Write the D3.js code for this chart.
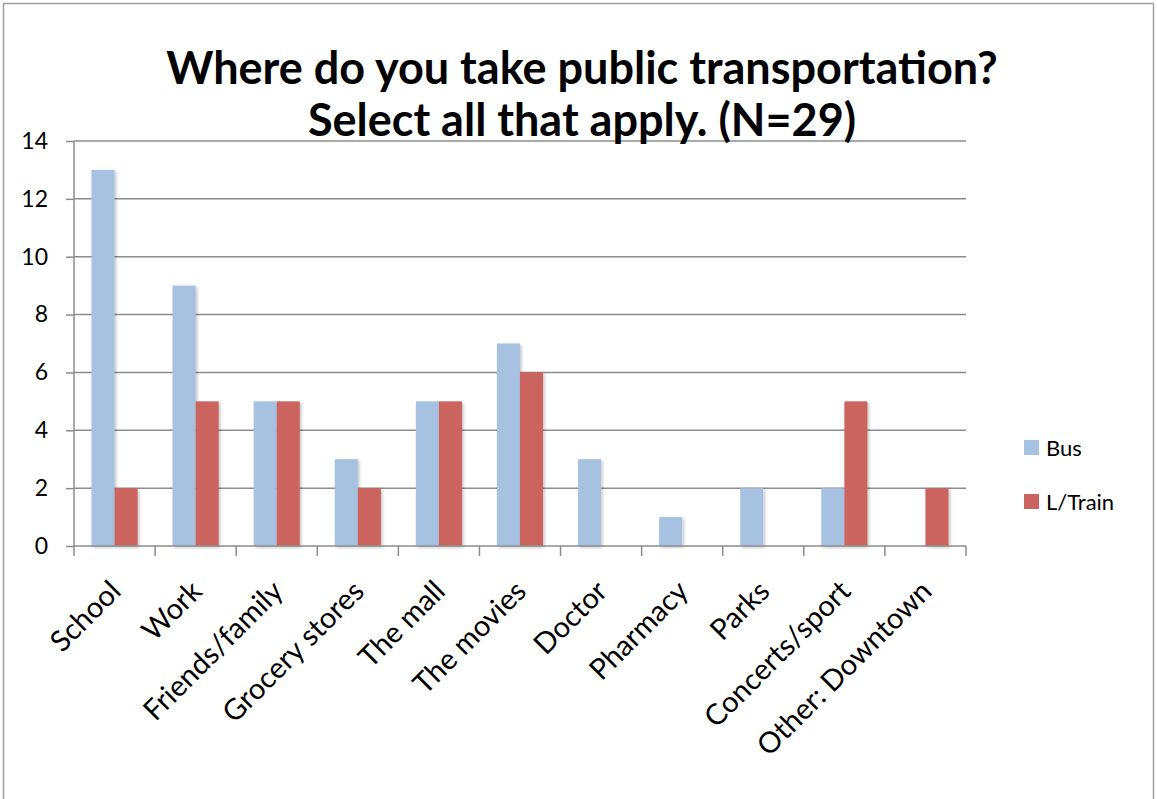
<!DOCTYPE html>
<html lang="en">
<head>
    <meta charset="UTF-8">
    <title>Public transportation</title>
    <script src="https://d3js.org/d3.v7.min.js"></script>
    <style>
        body { margin: 0; background: #fff; }
        text { font-family: Lato, "Open Sans", sans-serif; fill: #000; }
    </style>
</head>
<body>
    <svg id="chart" width="1157" height="799"></svg>
    <script>
        const categories = ["School", "Work", "Friends/family", "Grocery stores", "The mall",
            "The movies", "Doctor", "Pharmacy", "Parks", "Concerts/sport", "Other: Downtown"];
        const seriesNames = ["Bus", "L/Train"];
        const busValues = [13, 9, 5, 3, 5, 7, 3, 1, 2, 2, 0];
        const trainValues = [2, 5, 5, 2, 5, 6, 0, 0, 0, 5, 2];
        const yTicks = [0, 2, 4, 6, 8, 10, 12, 14];
        const colors = ["#a7c1e0", "#cb635e"];

        const rows = categories.map((c, i) => ({category: c, values: [busValues[i], trainValues[i]]}));

        const svg = d3.select("#chart");
        const plotLeft = 74, plotRight = 966, plotTop = 141, plotBottom = 546;

        // outer frame
        svg.append("rect")
            .attr("x", 3.5).attr("y", 3.5)
            .attr("width", 1150).attr("height", 820)
            .attr("fill", "none").attr("stroke", "#a0a0a0").attr("stroke-width", 1.5);

        const x = d3.scaleBand().domain(categories).range([plotLeft, plotRight]);
        const xSub = d3.scaleBand().domain(seriesNames)
            .range([17.5, x.bandwidth() - 17.5]);
        const y = d3.scaleLinear().domain([0, 14]).range([plotBottom, plotTop]);

        // gridlines
        svg.append("g")
            .selectAll("line")
            .data(yTicks.filter(d => d > 0))
            .join("line")
            .attr("x1", plotLeft).attr("x2", plotRight)
            .attr("y1", d => y(d)).attr("y2", d => y(d))
            .attr("stroke", "#8c8c8c").attr("stroke-width", 1.5);

        // drop shadow for bars
        const defs = svg.append("defs");
        const f = defs.append("filter").attr("id", "shadow")
            .attr("x", "-20%").attr("y", "-5%").attr("width", "150%").attr("height", "115%");
        f.append("feDropShadow").attr("dx", 1.5).attr("dy", 1.5)
            .attr("stdDeviation", 1.5).attr("flood-color", "#000").attr("flood-opacity", 0.25);

        const groups = svg.append("g")
            .selectAll("g")
            .data(rows)
            .join("g")
            .attr("transform", d => `translate(${x(d.category)},0)`);

        groups.selectAll("rect")
            .data(d => d.values.map((v, i) => ({key: seriesNames[i], value: v, i})))
            .join("rect")
            .filter(d => d.value > 0)
            .attr("x", d => xSub(d.key))
            .attr("width", xSub.bandwidth())
            .attr("y", d => y(d.value))
            .attr("height", d => y(0) - y(d.value))
            .attr("fill", d => colors[d.i])
            .attr("filter", "url(#shadow)");

        // y axis
        const yAxis = svg.append("g")
            .attr("transform", `translate(${plotLeft},0)`)
            .call(d3.axisLeft(y).tickValues(yTicks).tickSize(8).tickPadding(18).tickFormat(d3.format("d")));
        yAxis.selectAll("line, path").attr("stroke", "#8c8c8c").attr("stroke-width", 1.5);
        yAxis.select(".domain").attr("d", `M0,${plotTop}V${plotBottom}`);
        yAxis.selectAll("text").attr("font-size", 23).attr("font-family", "Lato, sans-serif").attr("fill", "#000");

        // x axis
        const xAxisG = svg.append("g").attr("transform", `translate(0,${plotBottom})`);
        xAxisG.append("line")
            .attr("x1", plotLeft).attr("x2", plotRight)
            .attr("stroke", "#8c8c8c").attr("stroke-width", 1.5);
        xAxisG.selectAll(".tk")
            .data(categories.concat(["__end"]))
            .join("line")
            .attr("class", "tk")
            .attr("x1", d => d === "__end" ? plotRight : x(d))
            .attr("x2", d => d === "__end" ? plotRight : x(d))
            .attr("y1", 0).attr("y2", 10)
            .attr("stroke", "#8c8c8c").attr("stroke-width", 1.5);
        xAxisG.selectAll(".lbl")
            .data(categories)
            .join("text")
            .attr("class", "lbl")
            .attr("transform", d => `translate(${x(d) + x.bandwidth() / 2 + 8},47) rotate(-45)`)
            .attr("text-anchor", "end")
            .attr("font-size", 29)
            .text(d => d);

        // title
        const title = svg.append("text")
            .attr("x", 582).attr("y", 84)
            .attr("text-anchor", "middle")
            .attr("font-size", 45)
            .attr("font-weight", "bold");
        title.append("tspan").attr("x", 582).attr("dy", 0).text("Where do you take public transportation?");
        title.append("tspan").attr("x", 582).attr("dy", 52).text("Select all that apply. (N=29)");

        // legend
        const legend = svg.append("g")
            .selectAll("g")
            .data(seriesNames)
            .join("g")
            .attr("transform", (d, i) => `translate(1024,${440 + i * 54})`);
        legend.append("rect").attr("width", 15).attr("height", 15)
            .attr("fill", (d, i) => colors[i]);
        legend.append("text").attr("x", 22).attr("y", 16)
            .attr("font-size", 22).text(d => d);
    </script>
</body>
</html>
